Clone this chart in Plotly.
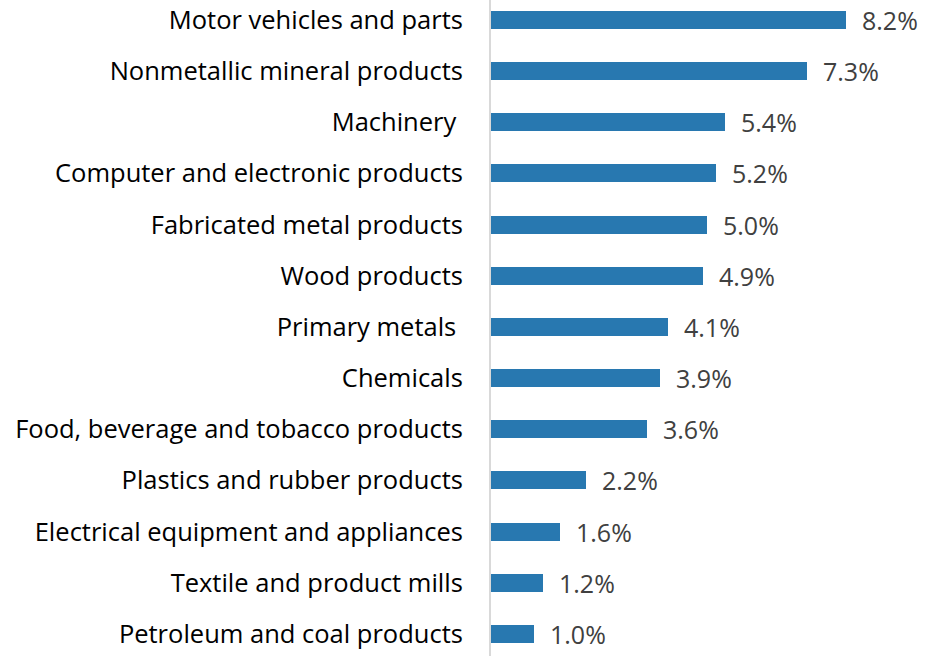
import plotly.graph_objects as go

categories = [
    "Motor vehicles and parts",
    "Nonmetallic mineral products",
    "Machinery ",
    "Computer and electronic products",
    "Fabricated metal products",
    "Wood products",
    "Primary metals ",
    "Chemicals",
    "Food, beverage and tobacco products",
    "Plastics and rubber products",
    "Electrical equipment and appliances",
    "Textile and product mills",
    "Petroleum and coal products",
]
values = [8.2, 7.3, 5.4, 5.2, 5.0, 4.9, 4.1, 3.9, 3.6, 2.2, 1.6, 1.2, 1.0]

FONT = "Open Sans"

fig = go.Figure()
fig.add_trace(go.Bar(
    x=values,
    y=categories,
    orientation="h",
    width=0.352,
    marker=dict(color="#2878b0", line=dict(width=0)),
    hoverinfo="skip",
))

# value labels to the right of each bar
for cat, val in zip(categories, values):
    fig.add_annotation(
        x=val, y=cat, text=f"{val:.1f}%",
        xanchor="left", yanchor="middle", xshift=14, showarrow=False,
        font=dict(family=FONT, size=25, color="#404040"),
    )

fig.update_layout(
    width=926, height=656,
    margin=dict(l=491, r=0, t=0, b=0),
    plot_bgcolor="white", paper_bgcolor="white",
    showlegend=False,
    bargap=0,
)
fig.update_xaxes(range=[0, 10.05], visible=False)
fig.update_yaxes(
    range=[12.43, -0.39],
    showline=True, linecolor="#d9d9d9", linewidth=2,
    ticks="", ticklabelstandoff=21,
    tickfont=dict(family=FONT, size=25.5, color="black"),
    showgrid=False,
)

# remove the page's default body margin so the figure sits at the window corner
fig.write_html("out.html", config={"displayModeBar": False},
               post_script="document.body.style.margin='0';")
